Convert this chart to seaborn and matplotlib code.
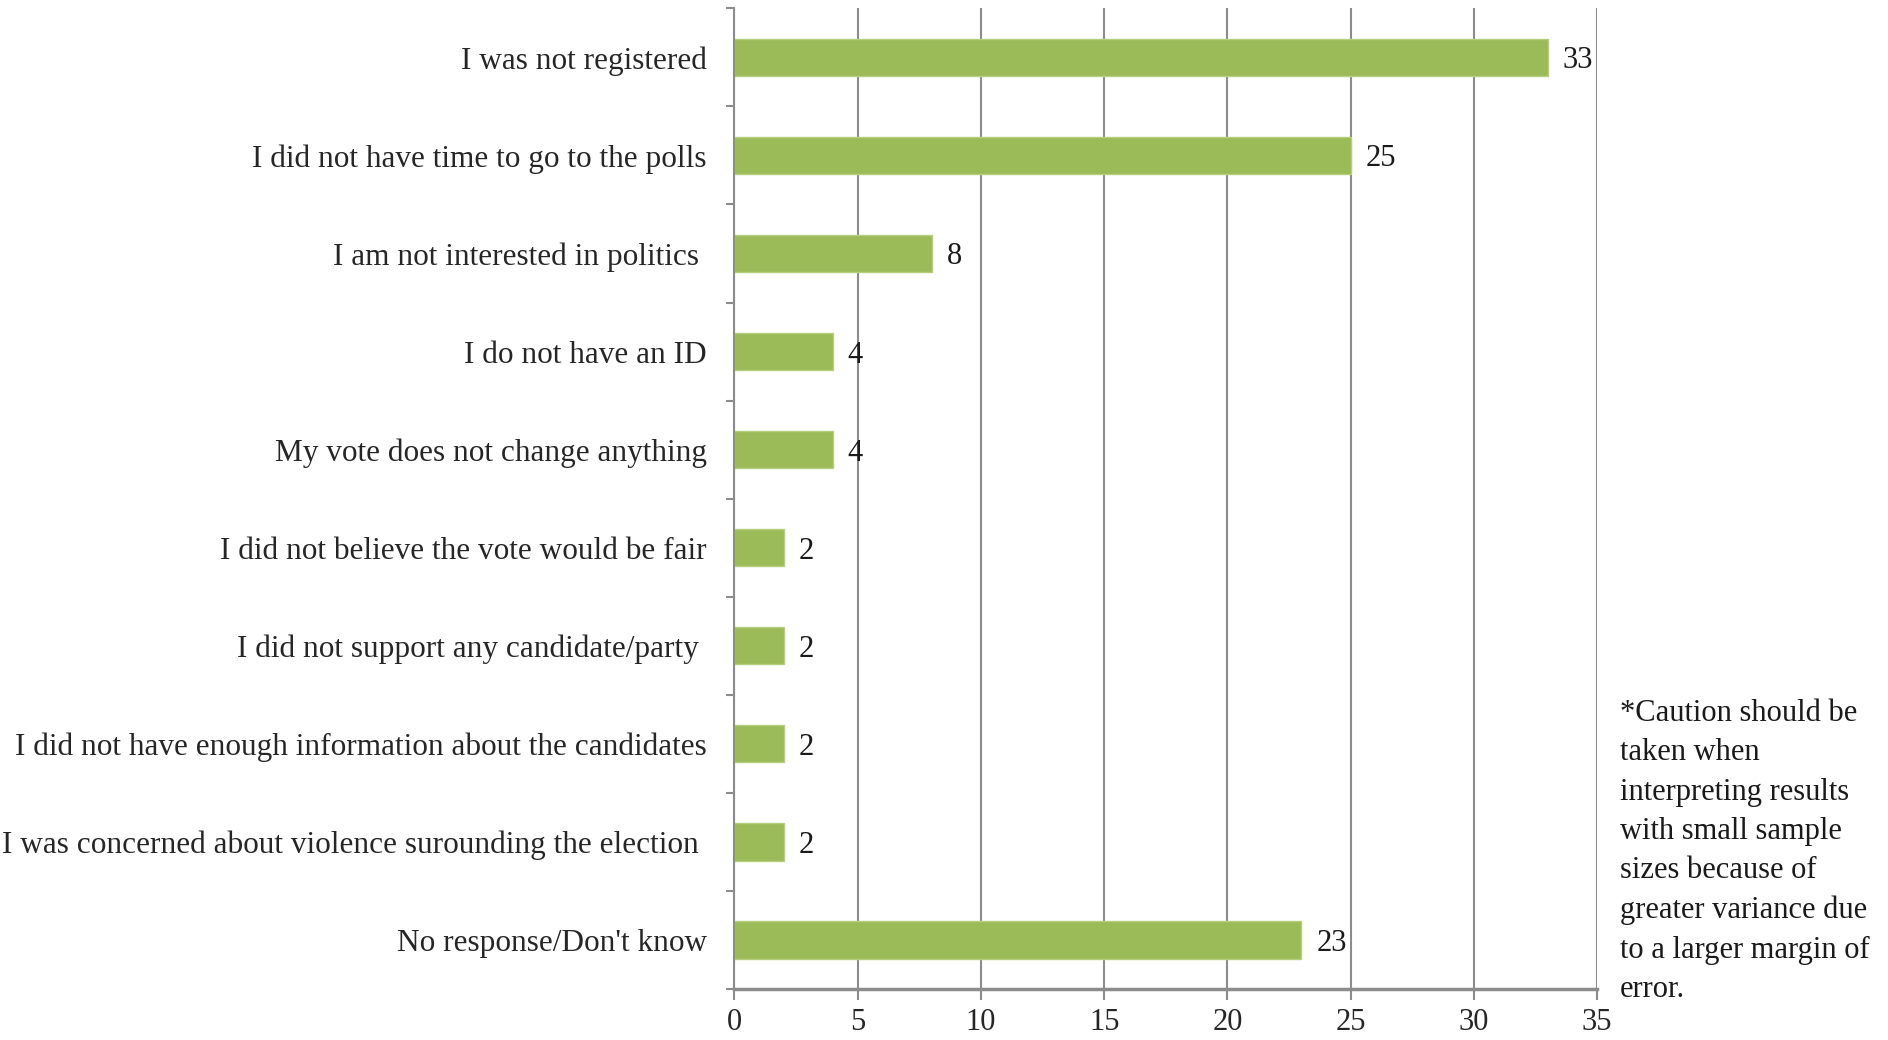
import numpy as np
import pandas as pd
import matplotlib
matplotlib.use("Agg")
import matplotlib.pyplot as plt
from matplotlib.ticker import FixedLocator
import seaborn as sns

reasons = [
    "I was not registered",
    "I did not have time to go to the polls",
    "I am not interested in politics ",
    "I do not have an ID",
    "My vote does not change anything",
    "I did not believe the vote would be fair",
    "I did not support any candidate/party ",
    "I did not have enough information about the candidates",
    "I was concerned about violence surounding the election ",
    "No response/Don't know",
]
percent = [33, 25, 8, 4, 4, 2, 2, 2, 2, 23]
x_ticks = [0, 5, 10, 15, 20, 25, 30, 35]
note = ("*Caution should be\ntaken when\ninterpreting results\nwith small sample\n"
        "sizes because of\ngreater variance due\nto a larger margin of\nerror.")

sns.set_style("white")
plt.rcParams['font.family'] = ['Liberation Serif', 'DejaVu Serif']

df = pd.DataFrame({'reason': reasons, 'pct': percent})

fig = plt.figure(figsize=(18.88, 10.4), dpi=100)
ax = fig.add_axes([0.389, 0.049, 0.457, 0.943])

sns.barplot(data=df, y='reason', x='pct', orient='h', color='#9BBB59',
            saturation=1, width=0.38, edgecolor='#B5CF7F', linewidth=1, ax=ax)

ax.set_xlim(0, 35)
ax.set_ylim(len(reasons) - 0.5, -0.5)
ax.set_xticks(x_ticks)
ax.xaxis.grid(True, color='#8C8C8C', linewidth=1.5)
ax.set_axisbelow(True)
for s in ['top', 'right']:
    ax.spines[s].set_visible(False)
ax.spines['left'].set_color('#8C8C8C')
ax.spines['left'].set_linewidth(1.5)
ax.spines['bottom'].set_color('#8C8C8C')
ax.spines['bottom'].set_linewidth(2.5)

ax.set_xlabel('')
ax.set_ylabel('')

# category boundary ticks on the left
ax.yaxis.set_minor_locator(FixedLocator(np.arange(-0.5, len(reasons), 1.0)))
ax.tick_params(axis='y', which='major', length=0, pad=20, labelsize=22.5)
ax.tick_params(axis='y', which='minor', length=6, width=1.5, color='#8C8C8C', left=True)
ax.tick_params(axis='x', which='major', length=8, width=1.5, color='#8C8C8C',
               bottom=True, pad=6, labelsize=22)

for i, v in enumerate(percent):
    ax.text(v + 0.6, i, str(v), va='center_baseline', ha='left', fontsize=22,
            color='#1a1a1a')

fig.text(0.858, 0.328, note, ha='left', va='top', fontsize=22,
         linespacing=1.47, color='#1a1a1a')

fig.savefig('out.png', dpi=100)
